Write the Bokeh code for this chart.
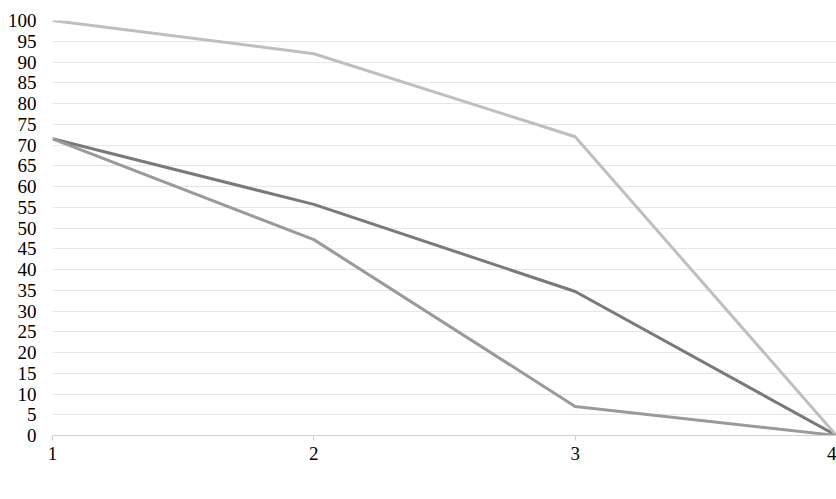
from bokeh.plotting import figure
from bokeh.models import Range1d, Legend, LegendItem, FixedTicker
from bokeh.embed import file_html
from bokeh.resources import INLINE

generations = [1, 2, 3, 4]
uterin = [71.5, 55.7, 34.7, 0]
agnatique = [100, 92, 72, 0]
agn_ut = [71.5, 47.2, 7, 0]
y_ticks = list(range(0, 101, 5))
names = ["Ancêtre utérin connu", "Ancêtre agnatique connu", "Ancêtre agn. et ut. connu"]
colors = ["#7a7a7a", "#bfbfbf", "#9a9a9a"]

FONT = "Liberation Serif"

p = figure(width=836, height=499, frame_width=784, frame_height=415,
           output_backend="svg", toolbar_location=None,
           x_range=Range1d(1, 4), y_range=Range1d(0, 100),
           min_border_left=52, min_border_right=0, min_border_top=20, min_border_bottom=0)
p.outline_line_color = None
p.background_fill_color = "white"

renderers = []
for ys, c in zip([uterin, agnatique, agn_ut], colors):
    r = p.line(generations, ys, line_color=c, line_width=3)
    renderers.append(r)

p.xgrid.grid_line_color = None
p.ygrid.grid_line_color = "#e6e6e6"
p.ygrid.grid_line_width = 1
p.yaxis.ticker = FixedTicker(ticks=y_ticks)
p.xaxis.ticker = FixedTicker(ticks=generations)

p.yaxis.axis_line_color = None
p.yaxis.major_tick_line_color = None
p.yaxis.major_tick_out = 0
p.yaxis.major_tick_in = 0
p.yaxis.minor_tick_line_color = None
p.yaxis.major_label_standoff = 16
p.xaxis.axis_line_color = "#d0d0d0"
p.xaxis.major_tick_line_color = "#d0d0d0"
p.xaxis.major_tick_out = 5
p.xaxis.major_tick_in = 0
p.xaxis.minor_tick_line_color = None
p.xaxis.major_label_standoff = 6
for ax in (p.xaxis, p.yaxis):
    ax.major_label_text_font = FONT
    ax.major_label_text_font_size = "19px"
    ax.major_label_text_color = "#000000"

legend = Legend(items=[LegendItem(label=n, renderers=[r]) for n, r in zip(names, renderers)],
                orientation="horizontal", location="center_right",
                label_text_font=FONT, label_text_font_size="19px", label_text_color="#000000",
                glyph_width=34, glyph_height=16, label_standoff=8, spacing=41,
                border_line_color=None, background_fill_alpha=0, padding=0, margin=14)
p.add_layout(legend, "below")

open("out.html", "w").write(file_html(p, INLINE))
